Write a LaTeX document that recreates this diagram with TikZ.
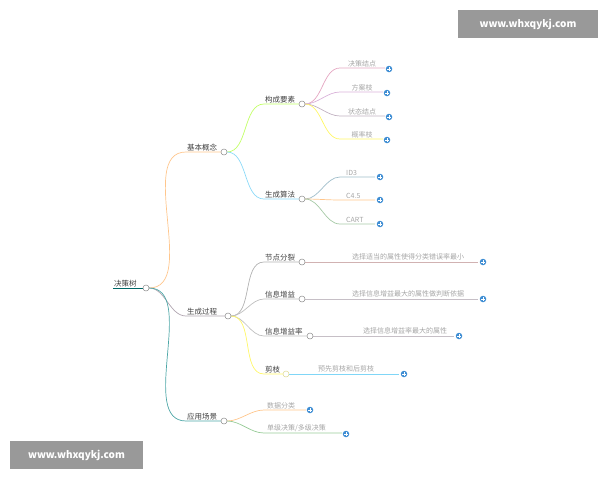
\documentclass[tikz,border=0pt]{standalone}
\usepackage{fontspec}
\setmainfont{Noto Sans CJK SC}
\usetikzlibrary{calc}
\begin{document}
\begin{tikzpicture}[x=1pt,y=-1pt,
  lab/.style={font=\fontsize{7.5}{8}\selectfont,text=black!75,inner sep=1pt},
  leaf/.style={font=\fontsize{7}{8}\selectfont,text=black!35,inner sep=1pt},
  dot/.style={circle,draw=black!45,fill=white,inner sep=0pt,minimum size=6pt,line width=0.5pt},
  plus/.style={circle,fill=cyan!60!blue!80,inner sep=0pt,minimum size=6.5pt},
  wm/.style={fill=black!40,text=white,font=\fontsize{10}{12}\selectfont\bfseries,inner sep=0pt,minimum height=28pt}]
\useasboundingbox (0,0) rectangle (600,480);
\newcommand\curv[4][black!30]{\draw[#1,line width=0.7pt] (#2) to[out=0,in=180,looseness=0.9] (#3) -- (#4);}
\newcommand\plusmark[1]{\draw[white,line width=0.9pt] ($(#1)+(-1.8,0)$) -- ($(#1)+(1.8,0)$) ($(#1)+(0,-1.8)$) -- ($(#1)+(0,1.8)$);}
% watermarks
\node[wm,minimum width=140pt] (w1) at (528,24) {www.whxqykj.com};
\node[wm,minimum width=133pt] (w2) at (76.5,455) {www.whxqykj.com};
% root
\node[lab,anchor=south west] (rt) at (113,288) {决策树};
\draw[teal!80!black,line width=0.8pt] (113,288) -- (143,288);
% level 1
\node[lab,anchor=south west] (a) at (186,152) {基本概念};
\node[lab,anchor=south west] (b) at (186,316) {生成过程};
\node[lab,anchor=south west] (c) at (186,421) {应用场景};
\coordinate (a0) at (186,152); \coordinate (b0) at (186,316); \coordinate (c0) at (186,421);
\coordinate (a1) at (221,152); \coordinate (b1) at (225,316); \coordinate (c1) at (221,421);
\coordinate (r0) at (149,288);
\curv[orange!45]{r0}{a0}{a1}
\curv[violet!25!black!35]{r0}{b0}{b1}
\curv[teal!70]{r0}{c0}{c1}
\node[dot] (r) at (146,288) {};
% level 2 under 基本概念
\coordinate (ae) at (227,152);
\node[lab,anchor=south west] (a1n) at (264,104) {构成要素};
\node[lab,anchor=south west] (a2n) at (264,199) {生成算法};
\coordinate (p1) at (264,104); \coordinate (p1e) at (299,104);
\coordinate (p2) at (264,199); \coordinate (p2e) at (299,199);
\curv[green!40!yellow!60]{ae}{p1}{p1e}
\curv[cyan!45]{ae}{p2}{p2e}
\node[dot] (ac) at (224,152) {};
% level 2 under 生成过程
\coordinate (be) at (231,316);
\foreach \n/\t/\y/\xe/\col in {n1/节点分裂/262/299/black!30, n2/信息增益/299/299/black!25, n3/信息增益率/336/307/black!25, n4/剪枝/374/283/yellow!60}{
  \node[lab,anchor=south west] (\n) at (264,\y) {\t};
  \coordinate (\n s) at (264,\y); \coordinate (\n e) at (\xe,\y);
  \curv[\col]{be}{\n s}{\n e}
}
\node[dot] (bc) at (228,316) {};
% level 2 under 应用场景
\coordinate (ce) at (227,421);
\node[leaf,anchor=south west] (d1) at (266,410) {数据分类};
\node[leaf,anchor=south west] (d2) at (266,433) {单级决策/多级决策};
\coordinate (d1s) at (264,410); \coordinate (d1e) at (306,410);
\coordinate (d2s) at (264,433); \coordinate (d2e) at (342,433);
\curv[orange!45]{ce}{d1s}{d1e}
\curv[green!50!black!40]{ce}{d2s}{d2e}
\node[dot] (cc) at (224,421) {};
\node[plus] (d1p) at (310,410) {}; \plusmark{d1p}
\node[plus] (d2p) at (346,434) {}; \plusmark{d2p}
% leaves of 构成要素
\coordinate (p1c) at (305,104);
\foreach \n/\t/\y/\xe/\col in {e1/决策结点/68/385/red!40!violet!35, e2/方案枝/92/383/violet!30, e3/状态结点/116/385/violet!40!black!30, e4/概率枝/139/383/yellow!60}{
  \node[leaf,anchor=south] (\n) at (362,\y) {\t};
  \coordinate (\n s) at (340,\y); \coordinate (\n e) at (\xe,\y);
  \curv[\col]{p1c}{\n s}{\n e}
  \node[plus] (\n p) at ($(\n e)+(4,1)$) {}; \plusmark{\n p}
}
\node[dot] (a1c) at (302,104) {};
% leaves of 生成算法
\coordinate (p2c) at (305,199);
\foreach \n/\t/\y/\col in {g1/ID3/177/cyan!50!black!45, g2/C4.5/200/orange!45, g3/CART/224/green!40!black!35}{
  \node[leaf,anchor=south west] (\n) at (345,\y) {\t};
  \coordinate (\n s) at (340,\y); \coordinate (\n e) at (375,\y);
  \curv[\col]{p2c}{\n s}{\n e}
  \node[plus] (\n p) at (380,\y) {}; \plusmark{\n p}
}
\node[dot] (a2c) at (302,199) {};
% leaves of 生成过程 children
\draw[red!40!black!30,line width=0.7pt] (305,262) -- (478,262);
\node[leaf,anchor=south] (l1) at (408,261) {选择适当的属性使得分类错误率最小};
\node[plus] (l1p) at (483,262) {}; \plusmark{l1p}
\node[dot] (n1c) at (302,262) {};
\draw[violet!20!black!25,line width=0.7pt] (305,299) -- (478,299);
\node[leaf,anchor=south] (l2) at (408,298) {选择信息增益最大的属性做判断依据};
\node[plus] (l2p) at (483,299) {}; \plusmark{l2p}
\node[dot] (n2c) at (302,299) {};
\draw[violet!20!black!25,line width=0.7pt] (313,336) -- (454,336);
\node[leaf,anchor=south] (l3) at (405,335) {选择信息增益率最大的属性};
\node[plus] (l3p) at (459,336) {}; \plusmark{l3p}
\node[dot] (n3c) at (310,336) {};
\draw[cyan!50,line width=0.7pt] (289,374) -- (399,374);
\node[leaf,anchor=south] (l4) at (346,373) {预先剪枝和后剪枝};
\node[plus] (l4p) at (404,374) {}; \plusmark{l4p}
\node[dot,draw=yellow!70!black!50] (n4c) at (286,374) {};
\end{tikzpicture}
\end{document}
